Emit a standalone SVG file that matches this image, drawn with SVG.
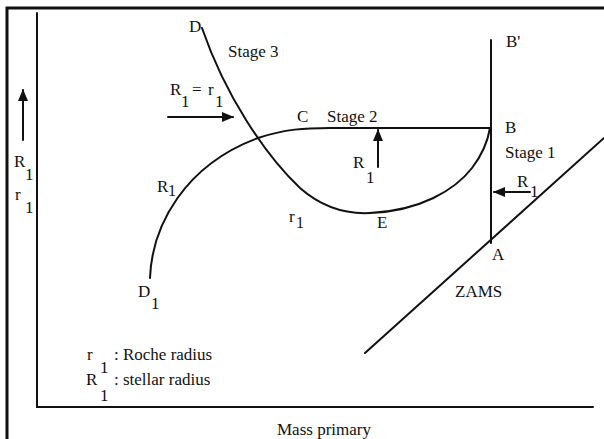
<svg xmlns="http://www.w3.org/2000/svg" width="604" height="439" viewBox="0 0 604 439">
<style>
.ln{fill:none;stroke:#111;stroke-width:2;stroke-linecap:round}
.fr{fill:none;stroke:#111;stroke-width:3}
.t{font-family:"Liberation Serif","Times New Roman",serif;font-size:17px;fill:#111}
.s{font-family:"Liberation Serif","Times New Roman",serif;font-size:16px;fill:#111}
</style>
<defs>
<marker id="ah" viewBox="0 0 12 10" refX="11" refY="5" markerWidth="12" markerHeight="10" markerUnits="userSpaceOnUse" orient="auto">
<path d="M0,0 L12,5 L0,10 z" fill="#111"/>
</marker>
</defs>
<rect width="604" height="439" fill="#fff"/>
<g id="frame">
<path class="fr" d="M7,439 V8 H604"/>
</g>
<g id="axes">
<path class="ln" d="M37,13 V407 H593"/>
<text class="t" x="277" y="435">Mass primary</text>
<text class="t" x="14" y="167">R</text>
<text class="t" x="25" y="180">1</text>
<text class="t" x="15" y="200">r</text>
<text class="t" x="25" y="213">1</text>
</g>
<g id="connectors">
<path class="ln" d="M23,140 V90" marker-end="url(#ah)"/>
<path class="ln" d="M168,117 H233" marker-end="url(#ah)"/>
<path class="ln" d="M378,167 V130" marker-end="url(#ah)"/>
<path class="ln" d="M530,192 H494" marker-end="url(#ah)"/>
</g>
<g id="curve-R1">
<path class="ln" d="M150,278 C152,225 185,165 258,138 C285,129 305,128 330,128 L490,128"/>
<text class="t" x="157" y="192">R</text>
<text class="s" x="168" y="196">1</text>
</g>
<g id="curve-r1">
<path class="ln" d="M202,28 C225,95 265,155 300,188 C325,210 350,214 370,213 C420,211 455,190 472,168 C482,155 488,140 490,128"/>
<text class="t" x="289" y="222">r</text>
<text class="s" x="296" y="228">1</text>
</g>
<g id="line-BB">
<path class="ln" d="M491,40 V243"/>
</g>
<g id="zams">
<path class="ln" d="M365,353 L604,138"/>
<text class="t" x="455" y="297">ZAMS</text>
</g>
<g id="labels">
<text class="t" x="189" y="32">D</text>
<text class="t" x="228" y="57">Stage 3</text>
<text class="t" x="170" y="95">R</text>
<text class="t" x="181" y="107">1</text>
<text class="t" x="192" y="95">=</text>
<text class="t" x="208" y="95">r</text>
<text class="t" x="215" y="107">1</text>
<text class="t" x="297" y="122">C</text>
<text class="t" x="327" y="122">Stage 2</text>
<text class="t" x="353" y="168">R</text>
<text class="t" x="366" y="183">1</text>
<text class="t" x="377" y="228">E</text>
<text class="t" x="138" y="297">D</text>
<text class="t" x="151" y="309">1</text>
<text class="t" x="506" y="47">B'</text>
<text class="t" x="505" y="133">B</text>
<text class="t" x="505" y="158">Stage 1</text>
<text class="t" x="517" y="187">R</text>
<text class="t" x="530" y="197">1</text>
<text class="t" x="492" y="260">A</text>
</g>
<g id="legend">
<text class="t" x="87" y="360">r</text>
<text class="t" x="100" y="373">1</text>
<text class="t" x="114" y="360">: Roche radius</text>
<text class="t" x="86" y="385">R</text>
<text class="t" x="100" y="401">1</text>
<text class="t" x="114" y="385">: stellar radius</text>
</g>
</svg>
